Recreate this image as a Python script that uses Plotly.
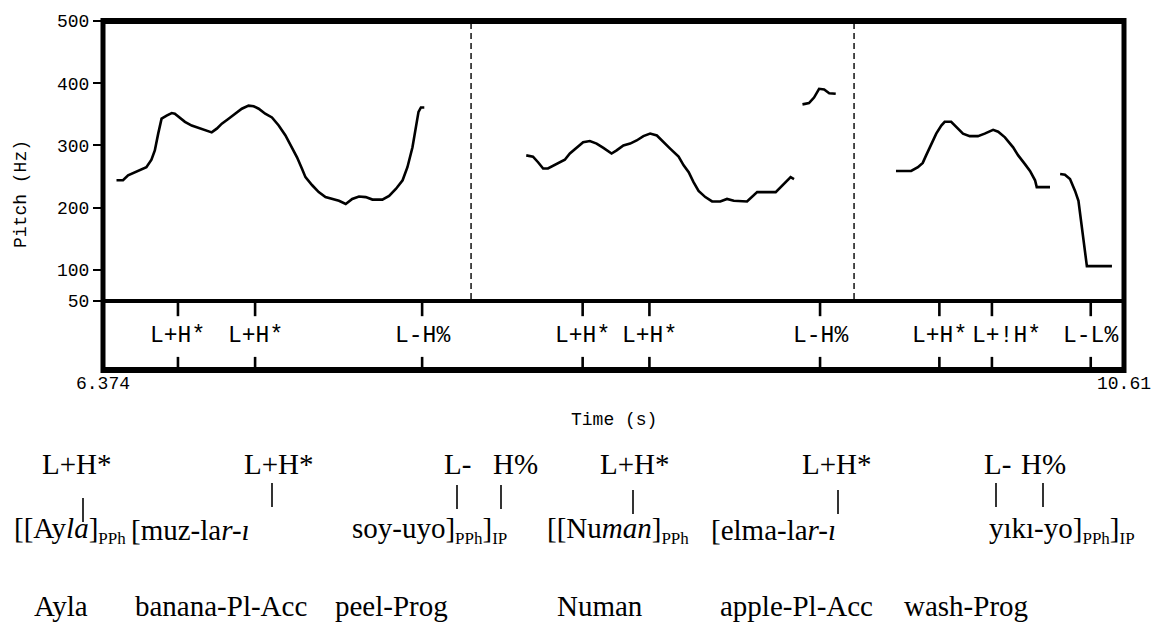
import plotly.graph_objects as go

W, H = 1161, 624

# ---------------- data ----------------
t_start, t_end = 6.374, 10.61
pitch_ticks = [50, 100, 200, 300, 400, 500]

seg1_t = [6.430, 6.457, 6.478, 6.506, 6.534, 6.554, 6.575, 6.589, 6.603, 6.617,
          6.638, 6.659, 6.672, 6.693, 6.714, 6.742, 6.770, 6.797, 6.825, 6.846,
          6.867, 6.895, 6.922, 6.950, 6.978, 6.999, 7.020, 7.047, 7.075, 7.103,
          7.131, 7.158, 7.179, 7.200, 7.214, 7.242, 7.269, 7.297, 7.325, 7.353,
          7.381, 7.408, 7.436, 7.464, 7.492, 7.533, 7.561, 7.589, 7.617, 7.637,
          7.658, 7.672, 7.683, 7.693, 7.707]
seg1_hz = [244, 244, 252, 257, 261, 265, 277, 292, 319, 343,
           348, 352, 351, 345, 338, 332, 328, 324, 321, 327,
           335, 343, 351, 359, 364, 363, 359, 351, 345, 332,
           316, 297, 281, 262, 249, 236, 225, 217, 214, 211,
           206, 214, 218, 217, 213, 213, 219, 230, 244, 265,
           297, 330, 354, 361, 361]

seg2a_t = [8.130, 8.158, 8.179, 8.200, 8.220, 8.241, 8.269, 8.290, 8.311, 8.339,
           8.366, 8.394, 8.422, 8.450, 8.484, 8.505, 8.533, 8.561, 8.588, 8.616,
           8.644, 8.672, 8.699, 8.727, 8.762, 8.783, 8.804, 8.824, 8.845, 8.873,
           8.901, 8.935, 8.963, 8.991, 9.046, 9.088, 9.165, 9.192, 9.227, 9.241]
seg2a_hz = [284, 282, 273, 263, 263, 267, 272, 277, 287, 297,
            305, 307, 303, 296, 287, 292, 300, 303, 308, 315,
            319, 316, 305, 295, 282, 268, 257, 241, 227, 217,
            210, 210, 214, 211, 210, 225, 225, 236, 249, 246]

seg2b_t = [9.276, 9.303, 9.324, 9.345, 9.366, 9.387, 9.414]
seg2b_hz = [366, 368, 377, 391, 390, 384, 383]

seg3a_t = [9.664, 9.727, 9.755, 9.775, 9.789, 9.810, 9.831, 9.852, 9.866, 9.893,
           9.914, 9.942, 9.970, 10.004, 10.032, 10.067, 10.088, 10.116, 10.150, 10.171,
           10.199, 10.220, 10.241, 10.248, 10.303]
seg3a_hz = [259, 259, 265, 272, 284, 303, 319, 332, 338, 338,
            330, 319, 315, 315, 319, 325, 322, 313, 297, 284,
            270, 259, 244, 233, 233]

seg3b_t = [10.345, 10.365, 10.386, 10.407, 10.421, 10.428, 10.435, 10.442, 10.449, 10.456,
           10.490, 10.560]
seg3b_hz = [254, 253, 246, 227, 211, 190, 163, 141, 120, 106, 106, 106]

segments = [(seg1_t, seg1_hz), (seg2a_t, seg2a_hz), (seg2b_t, seg2b_hz),
            (seg3a_t, seg3a_hz), (seg3b_t, seg3b_hz)]

boundary_times = [7.901, 9.490]
tone_times = [6.685, 7.005, 7.698, 8.364, 8.641, 9.349, 9.844, 10.062, 10.472]
tone_labels = ["L+H*", "L+H*", "L-H%", "L+H*", "L+H*", "L-H%", "L+H*", "L+!H*", "L-L%"]

# gloss lines below the figure
SUB = "<sub><span style='font-size:17px'>{}</span></sub>"
tones_row_text = ["L+H*", "L+H*", "L-", "H%", "L+H*", "L+H*", "L-", "H%"]
words_row_text = ["[[Ay<i>la</i>]" + SUB.format("PPh"), "[muz-la<i>r-ı</i>",
                  "soy-uyo]" + SUB.format("PPh") + "]" + SUB.format("IP"),
                  "[[Nu<i>man</i>]" + SUB.format("PPh"), "[elma-la<i>r-ı</i>",
                  "yıkı-yo]" + SUB.format("PPh") + "]" + SUB.format("IP")]
gloss_row_text = ["Ayla", "banana-Pl-Acc", "peel-Prog", "Numan", "apple-Pl-Acc", "wash-Prog"]

# ---------------- layout helpers ----------------
def px(x):
    return x / W

def py(y):
    return 1 - y / H

X_L, X_R = 103, 1124
Y_TOP, Y_MID, Y_BOT = 21, 301, 370
MONO = "Liberation Mono"
SERIF = "Liberation Serif"

fig = go.Figure()
for t, hz in segments:
    fig.add_trace(go.Scatter(x=t, y=hz, mode="lines", xaxis="x", yaxis="y",
                             line=dict(color="black", width=2.6),
                             hoverinfo="skip", showlegend=False))

shapes = []
def pline(x0, y0, x1, y1, w):
    shapes.append(dict(type="line", xref="paper", yref="paper",
                       x0=px(x0), y0=py(y0), x1=px(x1), y1=py(y1),
                       line=dict(color="black", width=w)))

pline(X_L, Y_TOP, X_R, Y_TOP, 6)
pline(X_L, Y_BOT, X_R, Y_BOT, 6)
pline(X_L, Y_MID, X_R, Y_MID, 4)
pline(X_L, Y_TOP - 3, X_L, Y_BOT + 3, 5)
pline(X_R, Y_TOP - 3, X_R, Y_BOT + 3, 5)

for bt in boundary_times:
    shapes.append(dict(type="line", xref="x", yref="paper", x0=bt, x1=bt,
                       y0=py(Y_MID - 2), y1=py(Y_TOP + 3),
                       line=dict(color="black", width=1.4, dash="6px,4px")))

for tt in tone_times:
    shapes.append(dict(type="line", xref="x", yref="y2", x0=tt, x1=tt, y0=0.78, y1=1,
                       line=dict(color="black", width=2.6)))
    shapes.append(dict(type="line", xref="x", yref="y2", x0=tt, x1=tt, y0=0, y1=0.19,
                       line=dict(color="black", width=2.6)))

annotations = []
tone_label_shift = [0, 0, 0, 0, 0, 0, 0, 15, 0]
for tt, lab, sh in zip(tone_times, tone_labels, tone_label_shift):
    annotations.append(dict(x=tt, y=0.5, xref="x", yref="y2", text=lab, showarrow=False,
                            xanchor="center", yanchor="middle", xshift=sh,
                            font=dict(family=MONO, size=23, color="black")))

annotations.append(dict(x=px(21), y=py(194), xref="paper", yref="paper", text="Pitch (Hz)",
                        textangle=-90, showarrow=False, xanchor="center", yanchor="middle",
                        font=dict(family=MONO, size=18, color="black")))
annotations.append(dict(x=px(614), y=py(420), xref="paper", yref="paper", text="Time (s)",
                        showarrow=False, xanchor="center", yanchor="middle",
                        font=dict(family=MONO, size=18, color="black")))

# gloss rows
tones_row_x = [77, 279, 457, 515, 635, 837, 997, 1043]
for txt, x in zip(tones_row_text, tones_row_x):
    annotations.append(dict(x=px(x), y=py(464), xref="paper", yref="paper", text=txt,
                            showarrow=False, xanchor="center", yanchor="middle",
                            font=dict(family=SERIF, size=29, color="black")))
bar_x = [83, 272, 457, 501, 633, 838, 996, 1043]
bar_top = [498, 483, 485, 485, 490, 490, 483, 483]
for x, y in zip(bar_x, bar_top):
    pline(x, y, x, y + 24, 1.6)
words_row_x = [12, 129, 350, 545, 709, 987]
for txt, x in zip(words_row_text, words_row_x):
    annotations.append(dict(x=px(x), y=py(530), xref="paper", yref="paper", text=txt,
                            showarrow=False, xanchor="left", yanchor="middle",
                            font=dict(family=SERIF, size=29, color="black")))
gloss_row_x = [32, 133, 333, 555, 718, 902]
for txt, x in zip(gloss_row_text, gloss_row_x):
    annotations.append(dict(x=px(x), y=py(606), xref="paper", yref="paper", text=txt,
                            showarrow=False, xanchor="left", yanchor="middle",
                            font=dict(family=SERIF, size=29, color="black")))

fig.update_layout(
    width=W, height=H, margin=dict(l=0, r=0, t=0, b=0, autoexpand=False),
    paper_bgcolor="white", plot_bgcolor="white",
    xaxis=dict(domain=[px(X_L), px(X_R)], range=[t_start, t_end], anchor="y2",
               automargin=False,
               showgrid=False, zeroline=False, showline=False, ticks="",
               tickvals=[t_start, t_end], ticktext=["6.374", "10.61"],
               tickfont=dict(family=MONO, size=18, color="black")),
    yaxis=dict(domain=[py(Y_MID), py(Y_TOP)], range=[50, 500], anchor="x",
               automargin=False,
               showgrid=False, zeroline=False, showline=False,
               tickvals=pitch_ticks, ticks="outside", ticklen=9, tickwidth=2,
               tickcolor="black", tickfont=dict(family=MONO, size=18, color="black")),
    yaxis2=dict(domain=[py(Y_BOT), py(Y_MID)], range=[0, 1], anchor="x", visible=False,
                automargin=False),
    shapes=shapes, annotations=annotations,
)

fig.write_html("out.html", config={"displayModeBar": False},
               post_script="document.body.style.margin='0px';document.body.style.overflow='hidden';")
